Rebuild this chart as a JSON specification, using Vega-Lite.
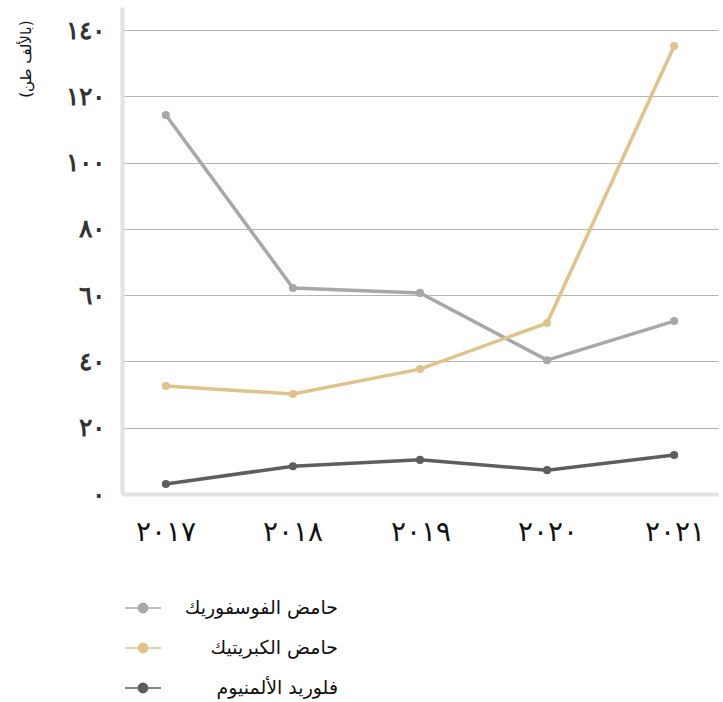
{
  "$schema": "https://vega.github.io/schema/vega-lite/v6.json",
  "width": 596,
  "height": 487,
  "autosize": {"type": "none"},
  "padding": {"left": 122, "top": 7, "right": 5, "bottom": 208},
  "background": "white",
  "config": {
    "view": {"stroke": null},
    "font": "DejaVu Sans"
  },
  "data": {
    "values": [
      {"year": "2017", "series": "حامض الفوسفوريك", "value": 114.4},
      {"year": "2018", "series": "حامض الفوسفوريك", "value": 62.2},
      {"year": "2019", "series": "حامض الفوسفوريك", "value": 60.7},
      {"year": "2020", "series": "حامض الفوسفوريك", "value": 40.4},
      {"year": "2021", "series": "حامض الفوسفوريك", "value": 52.2},
      {"year": "2017", "series": "حامض الكبريتيك", "value": 32.6},
      {"year": "2018", "series": "حامض الكبريتيك", "value": 30.2},
      {"year": "2019", "series": "حامض الكبريتيك", "value": 37.7},
      {"year": "2020", "series": "حامض الكبريتيك", "value": 51.6},
      {"year": "2021", "series": "حامض الكبريتيك", "value": 135.2},
      {"year": "2017", "series": "فلوريد الألمنيوم", "value": 3.0},
      {"year": "2018", "series": "فلوريد الألمنيوم", "value": 8.4},
      {"year": "2019", "series": "فلوريد الألمنيوم", "value": 10.3},
      {"year": "2020", "series": "فلوريد الألمنيوم", "value": 7.2},
      {"year": "2021", "series": "فلوريد الألمنيوم", "value": 11.8}
    ]
  },
  "encoding": {
    "x": {
      "field": "year",
      "type": "ordinal",
      "scale": {"type": "point", "padding": 0.345},
      "axis": {
        "title": null,
        "labelAngle": 0,
        "domainColor": "#e2e2e2",
        "domainWidth": 4,
        "ticks": false,
        "grid": false,
        "labelFont": "DejaVu Serif",
        "labelFontSize": 28,
        "labelColor": "#111111",
        "labelPadding": 24,
        "labelDx": -12,
        "labelExpr": "datum.value=='2017'?'٢٠١٧':datum.value=='2018'?'٢٠١٨':datum.value=='2019'?'٢٠١٩':datum.value=='2020'?'٢٠٢٠':'٢٠٢١'"
      }
    },
    "y": {
      "field": "value",
      "type": "quantitative",
      "scale": {"domain": [0, 147], "nice": false},
      "axis": {
        "values": [0, 20, 40, 60, 80, 100, 120, 140],
        "title": "(بالألف طن)",
        "titleFontSize": 15,
        "titleFontWeight": "normal",
        "titleColor": "#111111",
        "titleAngle": -90,
        "titleAnchor": "end",
        "titleAlign": "right",
        "titleBaseline": "middle",
        "titleX": -97,
        "titleY": 13,
        "domainColor": "#e2e2e2",
        "domainWidth": 4,
        "ticks": false,
        "grid": true,
        "gridColor": "#b5b5b5",
        "gridWidth": 1,
        "labelFont": "DejaVu Serif",
        "labelFontSize": 25,
        "labelFontWeight": "bold",
        "labelColor": "#333333",
        "labelPadding": 18,
        "labelExpr": "datum.value==0?'٠':datum.value==20?'٢٠':datum.value==40?'٤٠':datum.value==60?'٦٠':datum.value==80?'٨٠':datum.value==100?'١٠٠':datum.value==120?'١٢٠':'١٤٠'"
      }
    },
    "color": {
      "field": "series",
      "type": "nominal",
      "scale": {
        "domain": ["حامض الفوسفوريك", "حامض الكبريتيك", "فلوريد الألمنيوم"],
        "range": ["#a8a8aa", "#dfc38a", "#5e5e60"]
      },
      "legend": {
        "title": null,
        "orient": "none",
        "legendX": 2,
        "legendY": 582,
        "direction": "vertical",
        "padding": 0,
        "symbolType": "M-1,0H1M-0.26,0A0.26,0.26 0 1,0 0.26,0A0.26,0.26 0 1,0 -0.26,0Z",
        "symbolSize": 1296,
        "symbolStrokeWidth": 1.5,
        "labelFontSize": 19,
        "labelColor": "#111111",
        "labelAlign": "right",
        "labelOffset": 176,
        "labelLimit": 400,
        "rowPadding": 11
      }
    }
  },
  "layer": [
    {"mark": {"type": "line", "strokeWidth": 3.5}},
    {"mark": {"type": "point", "filled": true, "size": 65, "opacity": 1}}
  ]
}
